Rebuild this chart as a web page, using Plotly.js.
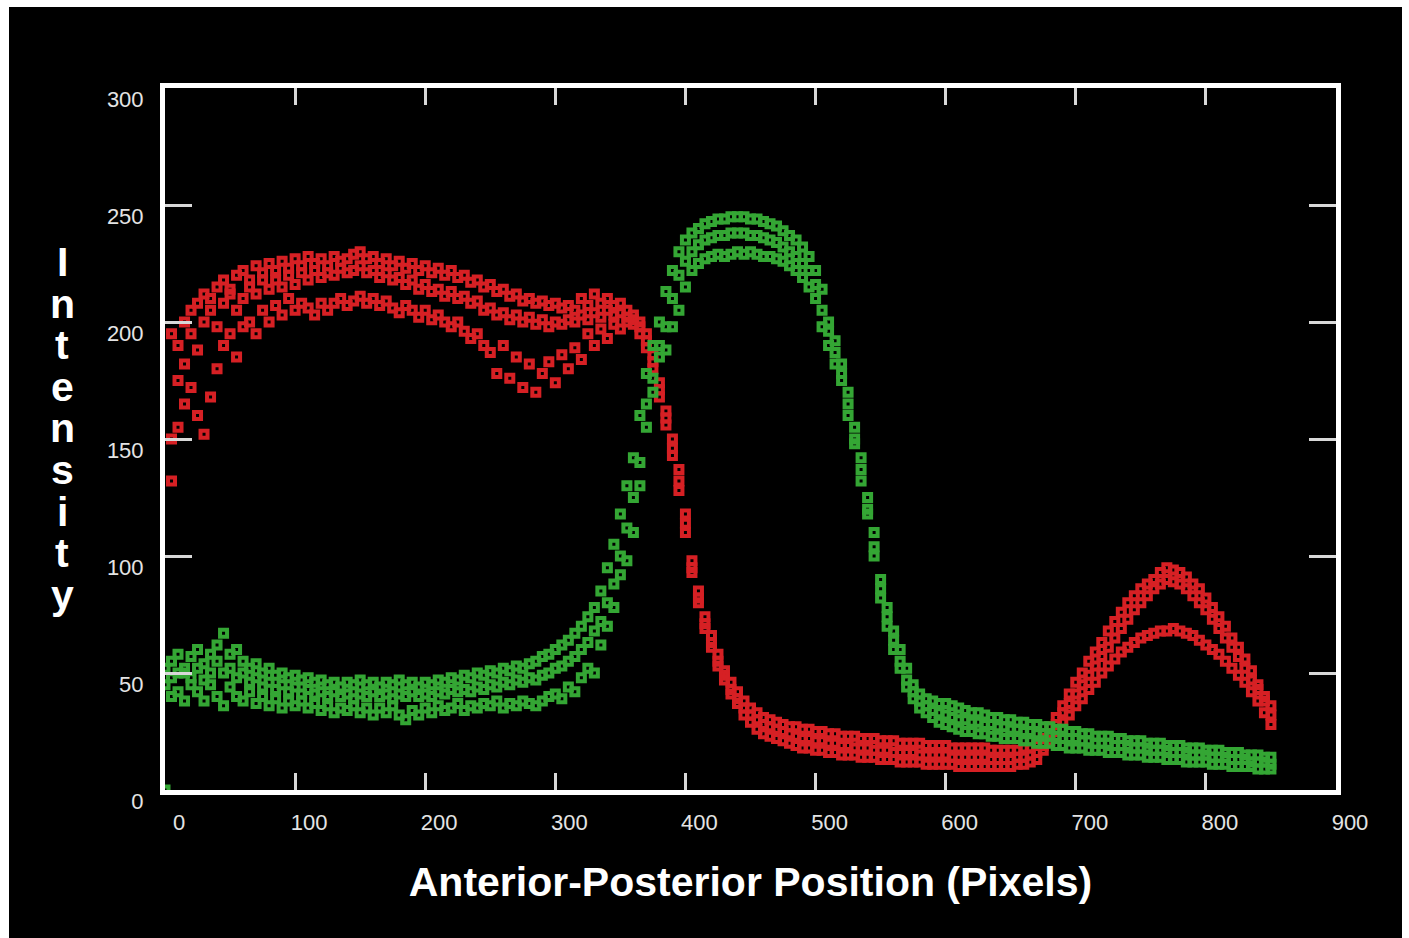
<!DOCTYPE html>
<html><head><meta charset="utf-8">
<script src="https://cdn.plot.ly/plotly-3.0.1.min.js"></script>
<style>
html,body{margin:0;padding:0;background:#fff;width:1409px;height:938px;overflow:hidden}
#panel{position:absolute;left:9px;top:7px;width:1393px;height:931px;background:#000}
</style></head><body><div id="panel"></div>
<script>
// Anterior-posterior position (pixels), sampled every 5
const positions = [
0,5,10,15,20,25,30,35,40,45, 50,55,60,65,70,75,80,85,90,95,
100,105,110,115,120,125,130,135,140,145, 150,155,160,165,170,175,180,185,190,195,
200,205,210,215,220,225,230,235,240,245, 250,255,260,265,270,275,280,285,290,295,
300,305,310,315,320,325,330,335,340,345, 350,355,360,365,370,375,380,385,390,395,
400,405,410,415,420,425,430,435,440,445, 450,455,460,465,470,475,480,485,490,495,
500,505,510,515,520,525,530,535,540,545, 550,555,560,565,570,575,580,585,590,595,
600,605,610,615,620,625,630,635,640,645, 650,655,660,665,670,675,680,685,690,695,
700,705,710,715,720,725,730,735,740,745, 750,755,760,765,770,775,780,785,790,795,
800,805,810,815,820,825,830,835,840,845, 850];

// Red channel intensity profiles
const redA = [
null,195,190,200,205,208,212,210,215,218, 214,220,222,218,224,221,225,222,226,223,
227,224,228,225,227,224,228,226,227,229, 230,227,228,225,227,224,226,223,225,222,
224,221,223,220,222,219,220,217,218,215, 216,213,214,211,212,209,210,208,209,207,
208,206,207,205,210,207,212,208,210,207, 208,205,203,200,195,186,174,162,150,137,
118,98,85,74,66,58,51,46,42,38, 35,33,31,30,29,28,27,27,26,26,
25,25,24,24,23,23,23,22,22,22, 21,21,21,20,20,20,20,19,19,19,
19,18,18,18,18,18,18,17,17,17, 17,17,18,18,19,22,27,31,36,41,
46,50,55,59,63,68,72,76,80,83, 86,88,90,93,95,94,93,91,88,86,
82,78,74,70,65,61,56,51,45,40, 36];
const redB = [
null,150,175,182,195,188,200,205,198,208, 212,205,210,215,212,218,214,218,215,220,
216,221,218,222,219,221,220,223,221,222, 224,221,222,219,221,218,219,216,218,214,
216,213,214,211,213,210,211,208,209,205, 206,203,204,201,203,200,202,199,201,198,
200,199,201,200,203,201,204,202,205,203, 204,202,201,198,192,183,171,159,146,132,
114,95,82,71,63,55,49,43,39,35, 32,30,28,27,26,25,24,23,22,22,
21,21,20,20,19,19,18,18,18,17, 17,17,16,16,16,16,15,15,15,15,
15,14,14,14,14,14,14,13,13,13, 13,14,14,15,16,19,24,28,33,37,
41,45,49,53,57,61,65,69,73,77, 80,83,86,88,90,89,88,86,83,80,
77,73,69,65,61,57,52,47,43,38, 32];
const redC = [
null,132,155,165,172,160,152,168,180,190, 195,185,198,200,195,205,200,207,203,210,
205,208,206,203,208,205,208,210,207,209, 211,208,210,207,209,206,204,207,205,202,
205,201,203,200,198,200,196,193,195,190, 187,178,190,176,185,172,182,170,178,183,
174,186,180,189,184,195,190,197,193,199, 197,200,199,195,189,180,168,156,143,128,
110,93,80,69,61,53,47,41,37,32, 29,26,24,23,22,21,20,19,18,18,
17,17,16,16,15,15,15,14,14,14, 13,13,13,12,12,12,12,11,11,11,
11,11,10,10,10,10,10,10,10,10, 10,11,11,12,13,17,21,25,29,32,
36,39,43,46,50,53,56,59,61,63, 65,66,67,68,68,69,68,67,66,64,
62,60,58,55,52,49,46,42,38,33, 28];

// Green channel intensity profiles
const greenA = [
0,55,58,52,57,60,54,58,62,67, 58,60,55,52,54,50,52,49,50,48,
49,47,48,46,47,45,46,44,46,45, 47,45,46,44,46,45,47,45,46,44,
46,45,47,46,48,47,49,48,50,49, 51,50,52,51,53,52,54,55,57,58,
60,62,64,67,70,74,78,85,95,105, 118,130,142,160,178,190,200,213,222,230,
235,238,240,242,243,244,244,245,245,245, 244,244,243,242,241,239,237,235,232,228,
222,214,200,192,182,170,155,142,125,110, 90,78,68,60,52,45,41,39,38,37,
37,36,35,34,33,33,32,31,31,30, 30,29,29,28,28,27,27,26,26,25,
25,24,24,23,23,23,22,22,21,21, 21,20,20,20,19,19,19,18,18,18,
17,17,17,16,16,16,15,15,15,14, 14];
const greenB = [
45,48,42,50,45,52,47,50,55,50, 52,48,50,46,48,44,46,43,45,42,
44,41,43,41,42,40,42,40,41,39, 41,40,42,40,41,39,41,40,42,40,
41,40,42,41,43,42,43,42,44,43, 45,44,46,45,47,46,48,47,49,50,
52,53,55,57,60,63,68,72,80,88, 100,112,125,140,155,170,185,198,210,220,
226,230,233,235,236,237,237,238,238,238, 237,237,236,235,234,232,230,228,225,222,
216,205,196,187,178,165,150,137,120,104, 86,74,64,55,47,42,38,36,34,33,
32,31,30,30,29,29,28,28,27,27, 26,26,25,25,24,24,23,23,22,22,
22,21,21,20,20,20,19,19,19,18, 18,18,17,17,17,16,16,16,15,15,
15,14,14,14,13,13,13,12,12,12, 11];
const greenC = [
52,40,50,38,48,42,38,45,40,36, 44,40,38,42,37,40,36,39,35,38,
36,38,35,37,34,36,33,35,34,36, 33,35,32,35,33,36,32,30,34,32,
35,33,36,34,35,37,34,36,35,37, 36,38,35,37,36,38,37,36,38,40,
41,39,44,42,48,52,50,62,70,78, 92,98,110,130,165,176,190,188,198,205,
215,222,225,227,228,229,228,229,230,229, 230,229,228,228,227,226,224,222,219,215,
210,198,190,182,175,160,148,132,118,100, 82,70,60,52,44,39,35,33,31,29,
28,27,26,25,25,24,24,23,23,22, 22,22,21,21,20,20,20,19,19,18,
18,18,17,17,17,16,16,16,15,15, 15,14,14,14,13,13,13,12,12,12,
12,11,11,11,10,10,10,10,9,9, 9];

const xTickVals = [0,100,200,300,400,500,600,700,800,900];
const yTickVals = [0,50,100,150,200,250,300];
const xTitle = "Anterior-Posterior Position (Pixels)";
const yTitle = "Intensity";

const RED = "rgb(214,32,36)";
const GREEN = "rgb(52,166,52)";

function profile(y, color){
  return {x: positions, y: y, type: "scatter", mode: "markers", hoverinfo: "skip",
    marker: {symbol: "square-open", size: 7, color: color, line: {width: 4, color: color}}};
}
const data = [profile(redA,RED), profile(redB,RED), profile(redC,RED),
              profile(greenA,GREEN), profile(greenB,GREEN), profile(greenC,GREEN)];

const M = {l:156, t:81, r:66, b:148};
const W = 1393, H = 931;
const pw = W - M.l - M.r, ph = H - M.t - M.b;

// stacked upright letters for the y title
const letters = yTitle.split("");
const annotations = letters.map((ch, k) => {
  const cy = 255 + k*41.6;           // letter centre, px from panel top
  return {text: ch, xref: "paper", yref: "paper",
    x: (53 - M.l)/pw, y: 1 - (cy - M.t)/ph, xanchor: "center", yanchor: "middle",
    showarrow: false, font: {family: "Liberation Sans, Arial, sans-serif", size: 41, color: "#fff", weight: "bold"}};
});

const tickFont = {family: "Liberation Sans, Arial, sans-serif", size: 22, color: "#e4e4e4"};
const layout = {
  width: W, height: H, margin: M,
  paper_bgcolor: "#000", plot_bgcolor: "#000",
  showlegend: false, hovermode: false,
  xaxis: {range: [0,900], tickvals: xTickVals, showgrid: false, zeroline: false,
    showline: true, linecolor: "#fff", linewidth: 5, mirror: "ticks",
    ticks: "inside", ticklen: 17, tickwidth: 3, tickcolor: "#d8d8d8",
    tickfont: tickFont, ticklabelshift: 14, ticklabelstandoff: 9,
    title: {text: "<b>" + xTitle + "</b>", standoff: 34,
      font: {family: "Liberation Sans, Arial, sans-serif", size: 41, color: "#fff"}}},
  yaxis: {range: [0,300], tickvals: yTickVals, showgrid: false, zeroline: false,
    showline: true, linecolor: "#fff", linewidth: 5, mirror: "ticks",
    ticks: "inside", ticklen: 27, tickwidth: 3, tickcolor: "#d8d8d8",
    tickfont: tickFont, ticklabelshift: 11, ticklabelstandoff: 12},
  annotations: annotations
};
Plotly.newPlot("panel", data, layout, {displayModeBar: false, staticPlot: true});
</script></body></html>
